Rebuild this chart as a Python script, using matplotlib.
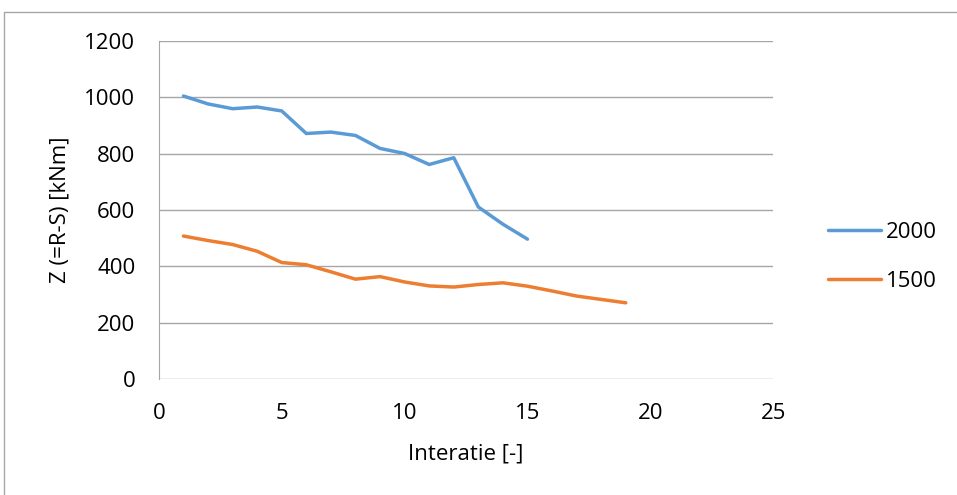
import matplotlib.pyplot as plt
from matplotlib.patches import Rectangle

plt.rcParams['font.family'] = ['Open Sans', 'DejaVu Sans']

iter_2000 = list(range(1, 16))
z_2000 = [1005, 977, 960, 966, 952, 872, 877, 865, 819, 801, 762, 786, 611, 550, 497]

iter_1500 = list(range(1, 20))
z_1500 = [508, 492, 478, 454, 414, 406, 381, 355, 364, 345, 331, 327, 336, 342, 330,
          313, 295, 283, 271]

x_ticks = [0, 5, 10, 15, 20, 25]
y_ticks = [0, 200, 400, 600, 800, 1000, 1200]

fs = 16

fig = plt.figure(figsize=(9.57, 4.95), dpi=100)
ax = fig.add_axes([0.166, 0.234, 0.642, 0.683])

ax.plot(iter_2000, z_2000, color='#5B9BD5', lw=2.5, label='2000', solid_capstyle='round')
ax.plot(iter_1500, z_1500, color='#ED7D31', lw=2.5, label='1500', solid_capstyle='round')

ax.set_xlim(0, 25)
ax.set_ylim(0, 1200)
ax.set_xticks(x_ticks)
ax.set_yticks(y_ticks)
ax.tick_params(length=0, labelsize=fs, colors='black')
ax.tick_params(axis='y', pad=17)
ax.tick_params(axis='x', pad=17)
ax.grid(axis='y', color='#A6A6A6', lw=1)
ax.set_axisbelow(True)
for s in ['top', 'right', 'bottom']:
    ax.spines[s].set_visible(False)
ax.spines['left'].set_color('#A6A6A6')
ax.set_xlabel('Interatie [-]', fontsize=fs, labelpad=14)
ax.set_ylabel('Z (=R-S) [kNm]', fontsize=fs, labelpad=10)

fig.legend(loc='center left', bbox_to_anchor=(0.865, 0.481), frameon=False,
           fontsize=fs, handlelength=2.4, handletextpad=0.2, labelspacing=1.25,
           borderpad=0, borderaxespad=0)

# outer chart-area border
fig.patches.append(Rectangle((4 / 957, -0.1), 1.0, 1 - 12 / 495 + 0.1,
                             transform=fig.transFigure, fill=False,
                             edgecolor='#A6A6A6', lw=1))

fig.savefig('out.png', dpi=100)
